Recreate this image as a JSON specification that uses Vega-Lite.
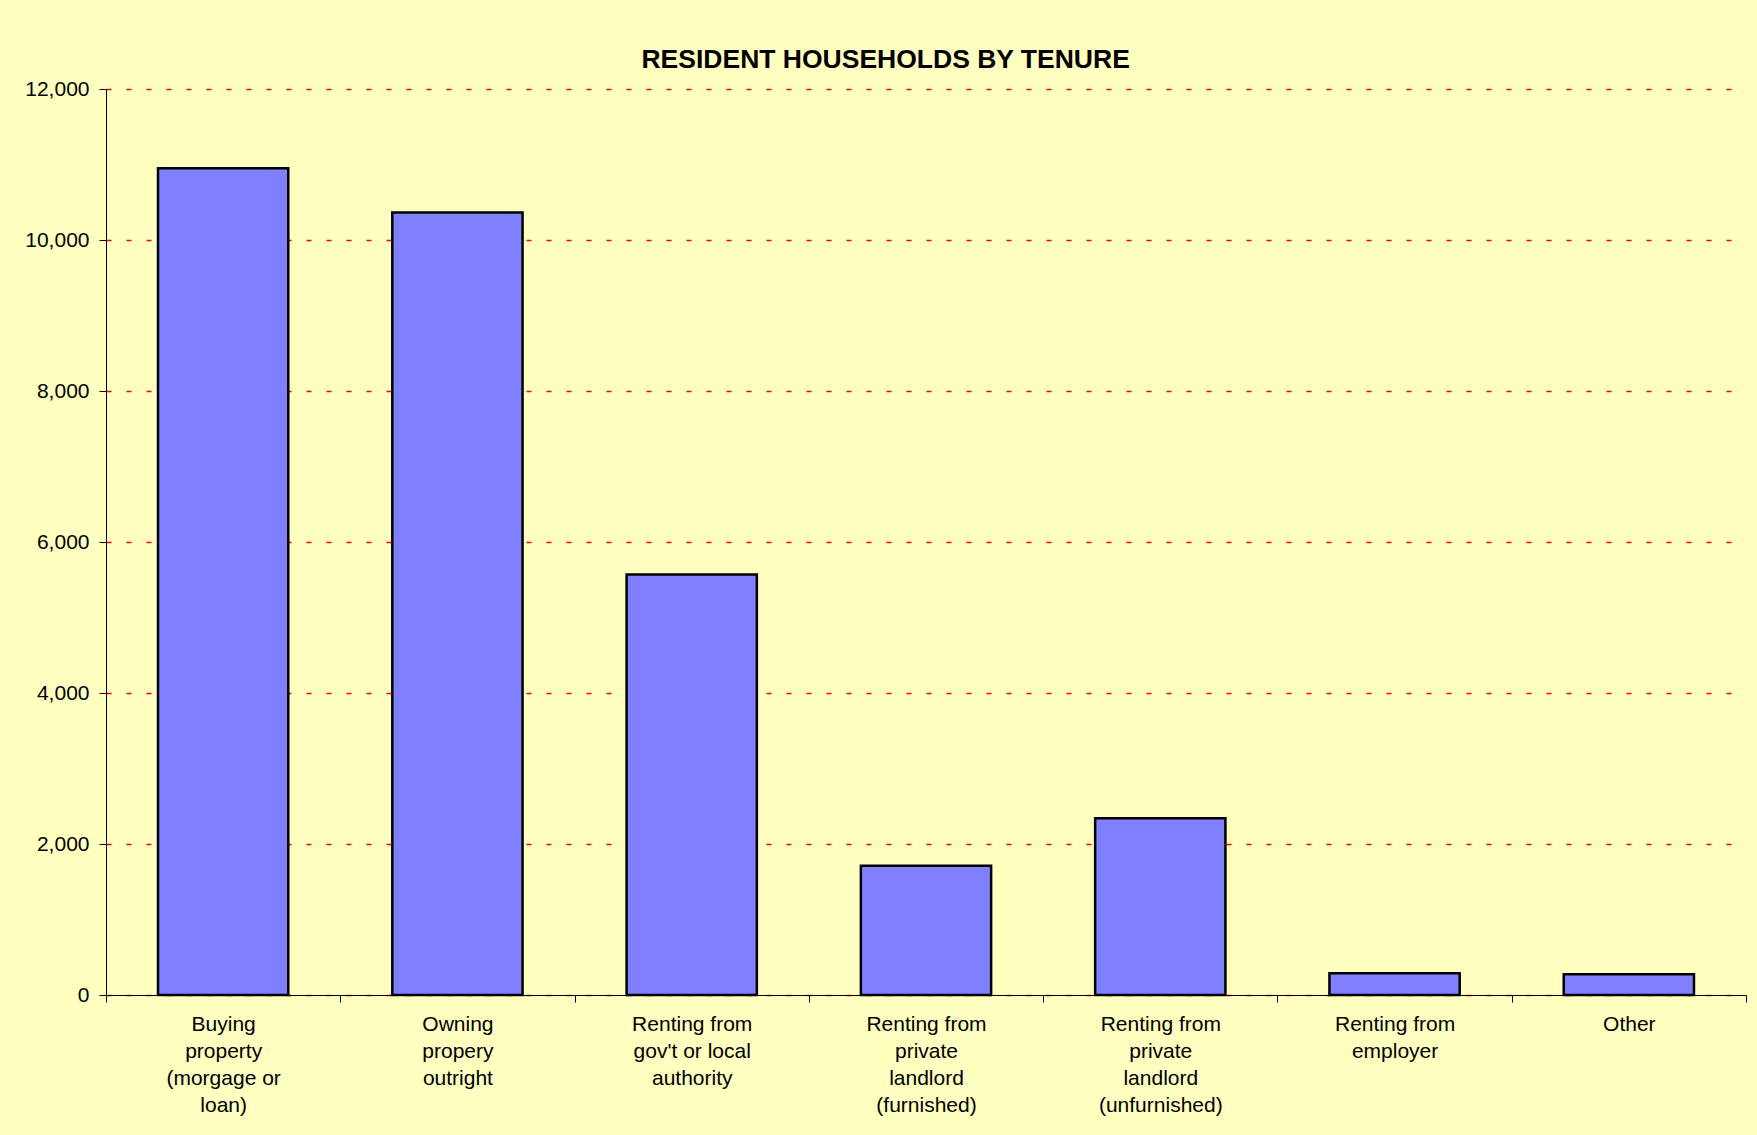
{
  "$schema": "https://vega.github.io/schema/vega-lite/v6.json",
  "autosize": "none",
  "width": 1640,
  "height": 906,
  "padding": {"left": 106, "top": 89, "right": 11, "bottom": 140},
  "background": "#FFFFC0",
  "title": {
    "text": "RESIDENT HOUSEHOLDS BY TENURE",
    "font": "Liberation Sans",
    "fontSize": 26.5,
    "fontWeight": "bold",
    "color": "#000000",
    "anchor": "middle",
    "frame": "bounds",
    "offset": 5
  },
  "data": {
    "values": [
      {"tenure": "Buying\nproperty\n(morgage or\nloan)", "households": 10950},
      {"tenure": "Owning\npropery\noutright", "households": 10365},
      {"tenure": "Renting from\ngov't or local\nauthority", "households": 5570},
      {"tenure": "Renting from\nprivate\nlandlord\n(furnished)", "households": 1712},
      {"tenure": "Renting from\nprivate\nlandlord\n(unfurnished)", "households": 2340},
      {"tenure": "Renting from\nemployer", "households": 288},
      {"tenure": "Other", "households": 274}
    ]
  },
  "mark": {"type": "bar", "fill": "#8080FF", "stroke": "#000000", "strokeWidth": 2.5, "width": {"band": 0.556}},
  "encoding": {
    "x": {
      "field": "tenure",
      "type": "nominal",
      "sort": null,
      "scale": {"paddingInner": 0, "paddingOuter": 0},
      "axis": {
        "title": null,
        "labelAngle": 0,
        "labelExpr": "split(datum.label, '\\n')",
        "labelFont": "Liberation Sans",
        "labelFontSize": 21,
        "labelLineHeight": 27,
        "labelColor": "#000000",
        "labelBaseline": "top",
        "labelPadding": 11,
        "labelLimit": 400,
        "tickBand": "extent",
        "tickSize": 7,
        "tickColor": "#000000",
        "domainColor": "#000000",
        "grid": false
      }
    },
    "y": {
      "field": "households",
      "type": "quantitative",
      "scale": {"domain": [0, 12000], "nice": false},
      "axis": {
        "title": null,
        "values": [0, 2000, 4000, 6000, 8000, 10000, 12000],
        "format": ",d",
        "labelFont": "Liberation Sans",
        "labelFontSize": 21,
        "labelColor": "#000000",
        "labelPadding": 10,
        "tickSize": 7,
        "tickColor": "#000000",
        "domainColor": "#000000",
        "grid": true,
        "gridColor": "#FF0000",
        "gridWidth": 1.5,
        "gridDash": [5, 15],
        "gridOpacity": 1
      }
    }
  },
  "config": {
    "view": {"stroke": null}
  }
}
